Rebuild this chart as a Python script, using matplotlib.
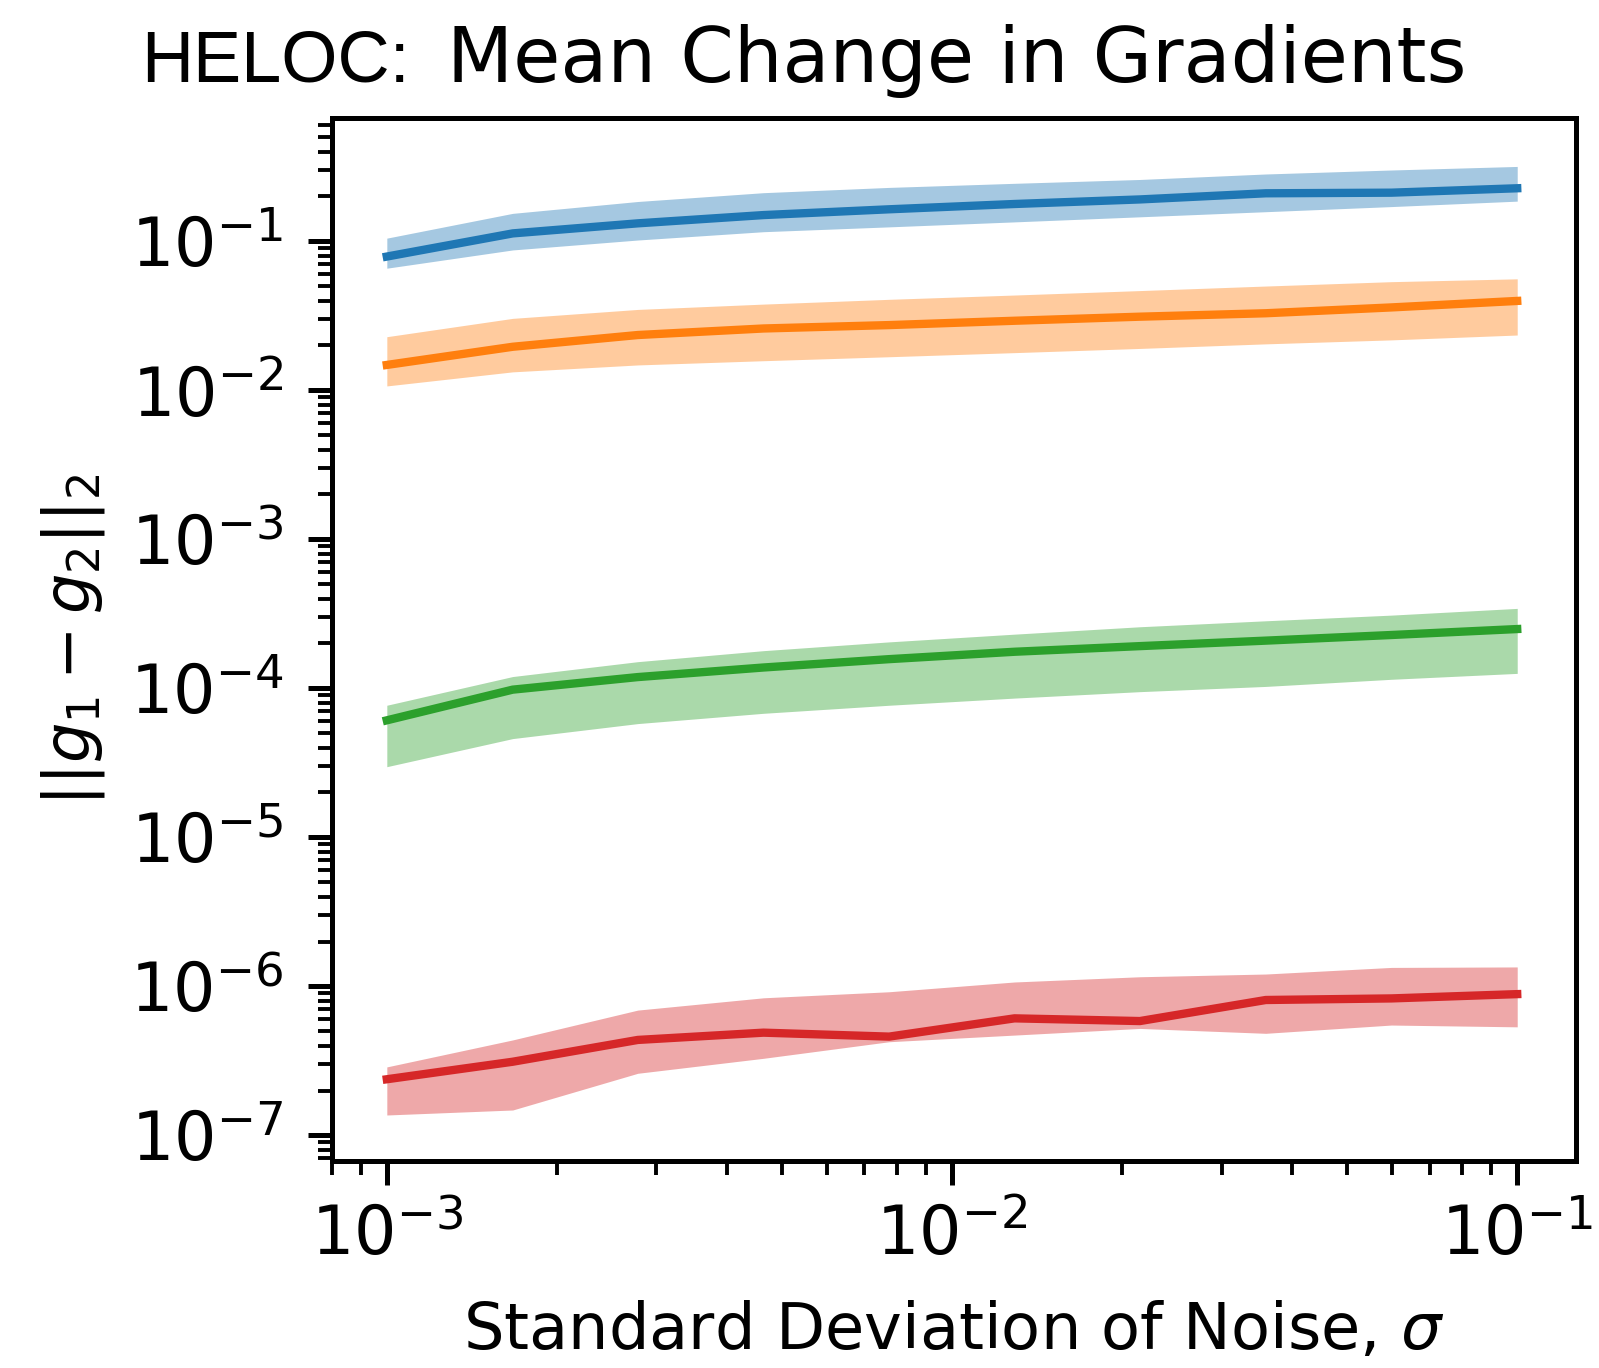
import matplotlib
matplotlib.use("Agg")
import matplotlib.pyplot as plt

# Noise levels (standard deviation sigma)
sigma = [0.001, 0.00167, 0.00278, 0.00464, 0.00774, 0.0129, 0.0215, 0.0359, 0.0599, 0.1]

# Mean ||g1 - g2||_2 with lower / upper band for each model
blue_mean = [0.079, 0.113, 0.132, 0.150, 0.164, 0.178, 0.191, 0.210, 0.212, 0.227]
blue_lo = [0.066, 0.0875, 0.102, 0.116, 0.125, 0.135, 0.146, 0.158, 0.171, 0.186]
blue_hi = [0.105, 0.154, 0.185, 0.212, 0.230, 0.245, 0.260, 0.283, 0.301, 0.318]

orange_mean = [0.0148, 0.0196, 0.0235, 0.0260, 0.0274, 0.0293, 0.0312, 0.0329, 0.0360, 0.0398]
orange_lo = [0.0107, 0.0133, 0.0148, 0.0158, 0.0168, 0.0179, 0.0191, 0.0205, 0.0218, 0.0235]
orange_hi = [0.0229, 0.0304, 0.0349, 0.0379, 0.0408, 0.0436, 0.0467, 0.0501, 0.0536, 0.0560]

green_mean = [6.1e-5, 9.8e-5, 1.19e-4, 1.38e-4, 1.57e-4, 1.76e-4, 1.92e-4, 2.09e-4, 2.28e-4, 2.5e-4]
green_lo = [2.98e-5, 4.6e-5, 5.8e-5, 6.8e-5, 7.7e-5, 8.6e-5, 9.5e-5, 1.03e-4, 1.15e-4, 1.26e-4]
green_hi = [7.7e-5, 1.2e-4, 1.51e-4, 1.79e-4, 2.05e-4, 2.31e-4, 2.59e-4, 2.84e-4, 3.1e-4, 3.44e-4]

red_mean = [2.38e-7, 3.12e-7, 4.37e-7, 4.89e-7, 4.6e-7, 6.1e-7, 5.85e-7, 8.1e-7, 8.3e-7, 8.87e-7]
red_lo = [1.37e-7, 1.48e-7, 2.61e-7, 3.29e-7, 4.25e-7, 4.71e-7, 5.22e-7, 4.84e-7, 5.5e-7, 5.35e-7]
red_hi = [2.88e-7, 4.37e-7, 6.93e-7, 8.38e-7, 9.2e-7, 1.07e-6, 1.16e-6, 1.21e-6, 1.34e-6, 1.35e-6]

series = [
    ("tab:blue", blue_mean, blue_lo, blue_hi),
    ("tab:orange", orange_mean, orange_lo, orange_hi),
    ("tab:green", green_mean, green_lo, green_hi),
    ("tab:red", red_mean, red_lo, red_hi),
]

W, H, DPI = 1599, 1368, 400
fig = plt.figure(figsize=(W / DPI, H / DPI), dpi=DPI)
ax = fig.add_axes([332 / W, 1 - 1161 / H, (1576 - 332) / W, (1161 - 118) / H])

for color, mean, lo, hi in series:
    ax.fill_between(sigma, lo, hi, color=color, alpha=0.4, linewidth=0)
    ax.plot(sigma, mean, color=color, linewidth=1.5)

ax.set_xscale("log")
ax.set_yscale("log")
ax.set_xlim(10 ** -3.097, 10 ** -0.896)
ax.set_ylim(10 ** -7.172, 10 ** -0.1725)

for s in ax.spines.values():
    s.set_linewidth(0.9)

ax.tick_params(axis="both", which="major", length=4.3, width=0.9, labelsize=12)
ax.tick_params(axis="both", which="minor", length=2.6, width=0.7)
ax.tick_params(axis="y", which="major", pad=4.5)
ax.tick_params(axis="x", which="major", pad=3.2)

ax.set_xlabel("Standard Deviation of Noise, $\\sigma$", fontsize=11.5)
ax.set_ylabel("$||g_1 - g_2||_2$", fontsize=11.5)
ax.xaxis.set_label_coords(0.5, -0.133)
ax.yaxis.set_label_coords(-0.181, 0.5)

base_y = 1 - 81.7 / H
fig.text(141 / W, base_y, "HELOC:", family="Liberation Sans", fontsize=13.0,
         ha="left", va="baseline")
fig.text(447 / W, base_y, "Mean Change in Gradients", fontsize=13.8,
         ha="left", va="baseline")

fig.savefig("out.png", dpi=DPI)
